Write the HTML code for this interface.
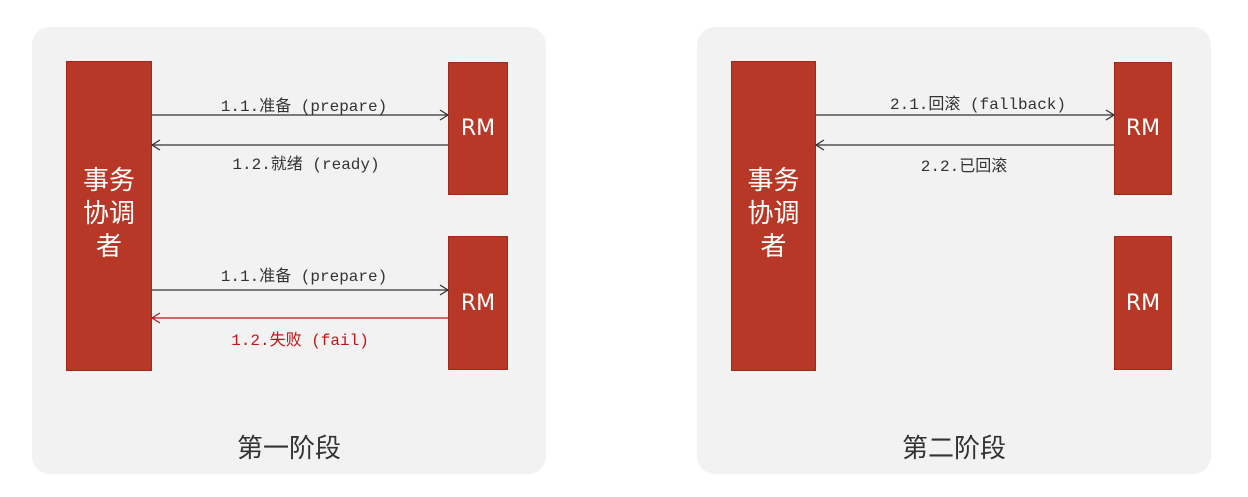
<!DOCTYPE html>
<html><head><meta charset="utf-8"><style>
body{margin:0;width:1248px;height:497px;background:#fff;overflow:hidden;position:relative;font-family:"Liberation Sans","Noto Sans CJK SC",sans-serif}
.panel{position:absolute;top:27px;width:514px;height:447px;background:#f2f2f2;border-radius:18px}
.box{position:absolute;background:#b83827;border:1px solid #9e2a1c;box-sizing:border-box;color:#fff}
.coord{font-size:26px;line-height:33px;display:flex;align-items:center;justify-content:center;text-align:center;padding-bottom:5px}
.rm{font-size:22px;display:flex;align-items:center;justify-content:center;font-family:"DejaVu Sans","Liberation Sans",sans-serif}
.lbl{position:absolute;font-family:"Liberation Mono","Noto Sans CJK SC",monospace;font-size:16px;color:#333;white-space:nowrap;transform:translateX(-50%)}
.title{position:absolute;top:428px;font-size:26px;color:#333;transform:translateX(-50%);white-space:nowrap}
svg{position:absolute;left:0;top:0}
</style></head><body>
<div class="panel" style="left:32px"></div>
<div class="panel" style="left:697px"></div>

<div class="box coord" style="left:66px;top:61px;width:86px;height:310px">事务<br>协调<br>者</div>
<div class="box rm" style="left:448px;top:62px;width:60px;height:133px">RM</div>
<div class="box rm" style="left:448px;top:236px;width:60px;height:134px">RM</div>

<div class="box coord" style="left:731px;top:61px;width:85px;height:310px">事务<br>协调<br>者</div>
<div class="box rm" style="left:1114px;top:62px;width:58px;height:133px">RM</div>
<div class="box rm" style="left:1114px;top:236px;width:58px;height:134px">RM</div>

<svg width="1248" height="497">
<g stroke="#333" stroke-width="1.3" fill="none">
<line x1="152" y1="115" x2="448" y2="115"/><polyline points="440,110 448,115 440,120"/>
<line x1="152" y1="145" x2="448" y2="145"/><polyline points="160,140 152,145 160,150"/>
<line x1="152" y1="290" x2="448" y2="290"/><polyline points="440,285 448,290 440,295"/>
<line x1="816" y1="115" x2="1114" y2="115"/><polyline points="1106,110 1114,115 1106,120"/>
<line x1="816" y1="145" x2="1114" y2="145"/><polyline points="824,140 816,145 824,150"/>
</g>
<g stroke="#c0141a" stroke-width="1.3" fill="none">
<line x1="152" y1="318" x2="448" y2="318"/><polyline points="160,313 152,318 160,323"/>
</g>
</svg>

<div class="lbl" style="left:304px;top:92px">1.1.准备 (prepare)</div>
<div class="lbl" style="left:306px;top:150px">1.2.就绪 (ready)</div>
<div class="lbl" style="left:304px;top:262px">1.1.准备 (prepare)</div>
<div class="lbl" style="left:300px;top:326px;color:#c0141a">1.2.失败 (fail)</div>
<div class="lbl" style="left:978px;top:90px">2.1.回滚 (fallback)</div>
<div class="lbl" style="left:964px;top:152px">2.2.已回滚</div>

<div class="title" style="left:289px">第一阶段</div>
<div class="title" style="left:954px">第二阶段</div>
</body></html>
